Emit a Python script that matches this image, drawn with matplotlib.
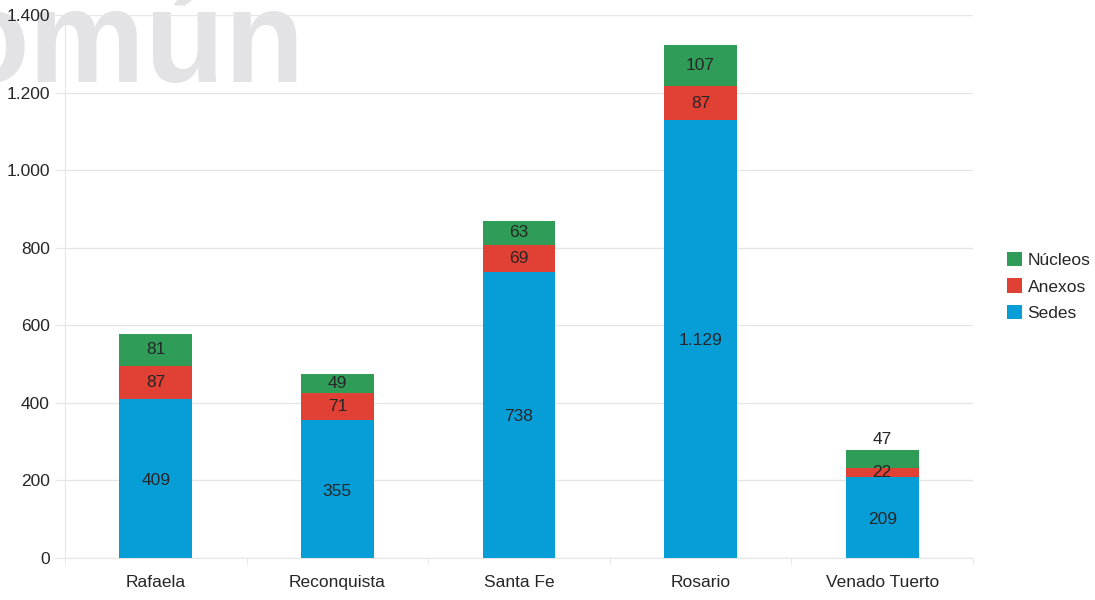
import matplotlib.pyplot as plt
import numpy as np

plt.rcParams['font.family'] = ['Liberation Sans', 'DejaVu Sans']

ciudades = ['Rafaela', 'Reconquista', 'Santa Fe', 'Rosario', 'Venado Tuerto']
sedes = [409, 355, 738, 1129, 209]
anexos = [87, 71, 69, 87, 22]
nucleos = [81, 49, 63, 107, 47]

c_sedes = '#079dd7'
c_anexos = '#e14134'
c_nucleos = '#2f9d58'
grid_c = '#e6e6e6'
txt_c = '#262626'


def fmt(v):
    return f'{v:,}'.replace(',', '.')


fig = plt.figure(figsize=(10.95, 6), dpi=100)
# marca de agua de fondo
fig.text(305 / 1095, 1 - 82 / 600, 'omún', fontsize=94, fontweight='bold',
         color='#e3e3e5', ha='right', va='baseline', zorder=-5)

ax = fig.add_axes([65 / 1095, 42 / 600, 908 / 1095, 543 / 600])
ax.set_zorder(2)
ax.patch.set_alpha(0)

x = np.arange(len(ciudades))
w = 0.4
b1 = ax.bar(x, sedes, w, color=c_sedes, label='Sedes', zorder=3)
b2 = ax.bar(x, anexos, w, bottom=sedes, color=c_anexos, label='Anexos', zorder=3)
base3 = np.array(sedes) + np.array(anexos)
b3 = ax.bar(x, nucleos, w, bottom=base3, color=c_nucleos, label='Núcleos', zorder=3)

for i in range(len(ciudades)):
    ax.text(x[i], sedes[i] / 2 - 5, fmt(sedes[i]), ha='center', va='center',
            fontsize=12.5, color=txt_c, zorder=4)
    ax.text(x[i], sedes[i] + anexos[i] / 2, fmt(anexos[i]), ha='center', va='center',
            fontsize=12.5, color=txt_c, zorder=4)
    top = base3[i] + nucleos[i]
    if nucleos[i] >= 48:
        ax.text(x[i], base3[i] + nucleos[i] / 2, fmt(nucleos[i]), ha='center',
                va='center', fontsize=12.5, color=txt_c, zorder=4)
    else:
        ax.text(x[i], top + 8, fmt(nucleos[i]), ha='center', va='bottom',
                fontsize=12.5, color=txt_c, zorder=4)

ax.set_xlim(-0.5, len(ciudades) - 0.5)
ax.set_ylim(0, 1400)
yt = np.arange(0, 1401, 200)
ax.set_yticks(yt)
ax.set_yticklabels([fmt(v) for v in yt], fontsize=12.5, color=txt_c)
ax.set_xticks(x)
ax.set_xticklabels(ciudades, fontsize=12.5, color=txt_c)
ax.set_xticks(np.arange(-0.5, len(ciudades)), minor=True)
ax.tick_params(axis='x', which='major', length=0, pad=12)
ax.tick_params(axis='x', which='minor', length=5, color=grid_c)
ax.tick_params(axis='y', length=7, color=grid_c, pad=4)
ax.grid(axis='y', color=grid_c, linewidth=1, zorder=0)
for s in ['top', 'right']:
    ax.spines[s].set_visible(False)
ax.spines['left'].set_color(grid_c)
ax.spines['bottom'].set_color(grid_c)

leg = ax.legend(handles=[b3, b2, b1], loc='center left', bbox_to_anchor=(1.02, 0.5),
                frameon=False, fontsize=12.5, handlelength=0.9, handleheight=0.9,
                handletextpad=0.3, labelspacing=0.6)
for t in leg.get_texts():
    t.set_color(txt_c)

fig.savefig('out.png', dpi=100)
